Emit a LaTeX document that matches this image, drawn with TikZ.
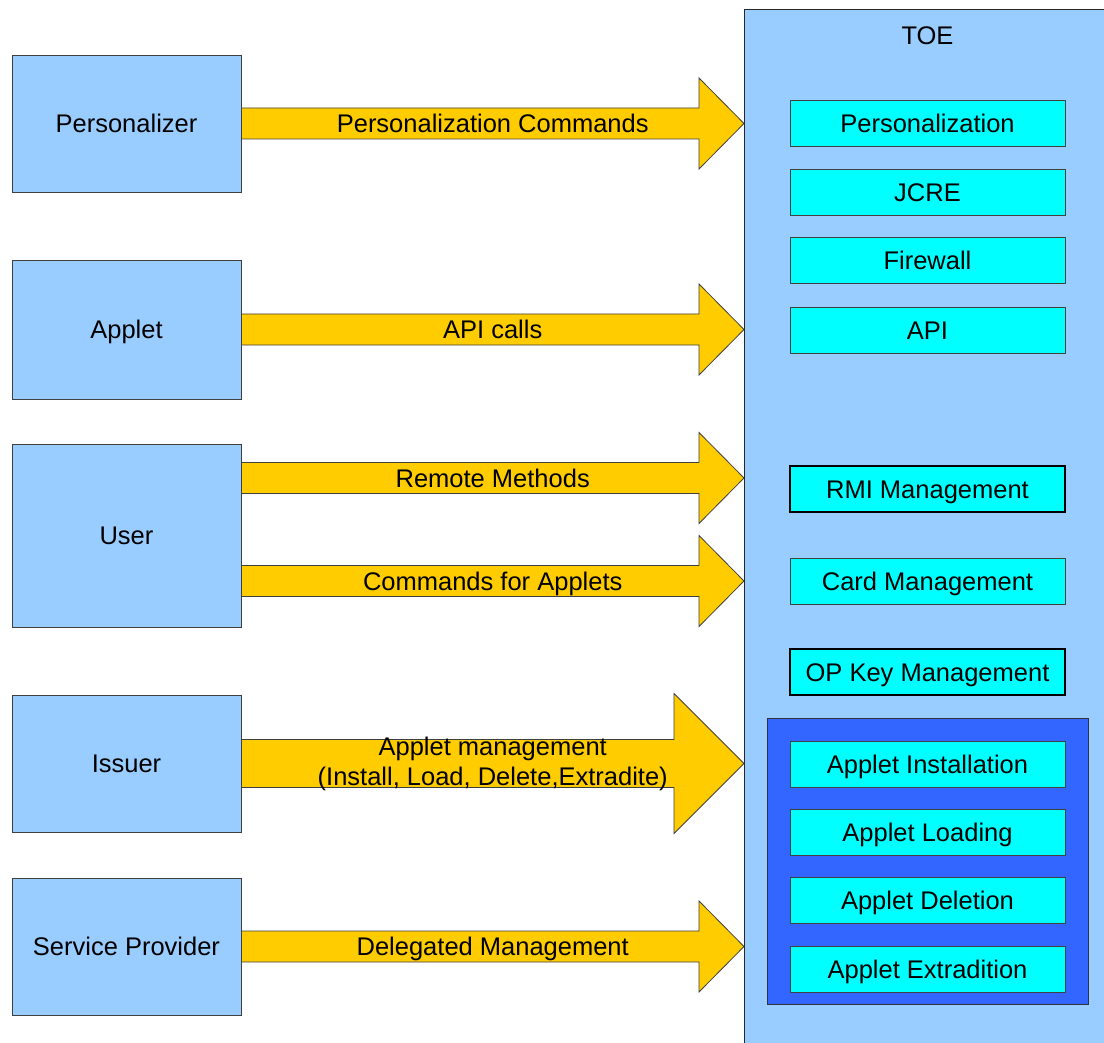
\documentclass[tikz,border=0pt]{standalone}
\usepackage{fontspec}
\setmainfont{Liberation Sans}
\usetikzlibrary{calc}
\definecolor{actorblue}{HTML}{99CCFF}
\definecolor{arrowyellow}{HTML}{FFCC00}
\definecolor{modcyan}{HTML}{00FFFF}
\definecolor{groupblue}{HTML}{3366FF}
\newcommand\fatarrow[7]{%
  \draw[fatarr] let \p1=(#1), \p2=(#2) in
    (\x1,\y1+#4) -- (\x2-#3,\y1+#4) -- (\x2-#3,\y1+#5) -- (\x2,\y1) --
    (\x2-#3,\y1-#5) -- (\x2-#3,\y1-#4) -- (\x1,\y1-#4) -- cycle;
  \node[#6] at ($(#1)!0.5!(#2)$) {#7};}
\begin{document}
\begin{tikzpicture}[x=1pt,y=-1pt,
  bigfont/.style={font=\fontsize{25.5}{30}\selectfont},
  capcenter/.style={text height=18.3pt, text depth=0pt},
  actor/.style={draw=black!75, line width=0.9pt, fill=actorblue,
    minimum width=229pt, inner sep=0pt, bigfont, capcenter},
  toebox/.style={draw=black!85, line width=1pt, fill=actorblue,
    minimum width=380pt, minimum height=1060pt, inner sep=0pt},
  module/.style={draw=black!75, line width=0.9pt, fill=modcyan,
    minimum width=275pt, minimum height=46pt, inner sep=0pt, bigfont, capcenter},
  thickmodule/.style={module, draw=black, line width=2pt},
  group/.style={draw=black!80, line width=0.9pt, fill=groupblue,
    minimum width=321pt, minimum height=285.5pt, inner sep=0pt},
  fatarr/.style={draw=black!75, line width=0.8pt, fill=arrowyellow, line join=miter},
  arrlabel/.style={bigfont, inner sep=0pt, capcenter},
  arrlabeltwo/.style={bigfont, inner sep=0pt, align=center},
  plain/.style={bigfont, inner sep=0pt, capcenter}]
\clip (0,0) rectangle (1104,1043);
\fill[white] (0,0) rectangle (1104,1043);

% actors
\node[actor, minimum height=137pt] (pers) at (126.5,123.5) {Personalizer};
\node[actor, minimum height=139pt] (applet) at (126.5,329.5) {Applet};
\node[actor, minimum height=183pt] (user) at (126.5,535.5) {User};
\node[actor, minimum height=137pt] (issuer) at (126.5,763.5) {Issuer};
\node[actor, minimum height=137pt] (sp) at (126.5,946.5) {Service Provider};

% TOE
\node[toebox, anchor=north west] (toe) at (744,9) {};
\node[plain] (toelabel) at (927.5,35) {TOE};

% group of applet management modules
\node[group] (grp) at (927.5,861.25) {};

% modules
\node[module] (mpers) at (927.5,123.5) {Personalization};
\node[module] (mjcre) at (927.5,192) {JCRE};
\node[module] (mfw) at (927.5,260.5) {Firewall};
\node[module] (mapi) at (927.5,330) {API};
\node[thickmodule] (mrmi) at (927.5,489) {RMI Management};
\node[module] (mcard) at (927.5,581) {Card Management};
\node[thickmodule] (mopk) at (927.5,672) {OP Key Management};
\node[module] (minst) at (927.5,764) {Applet Installation};
\node[module] (mload) at (927.5,832.5) {Applet Loading};
\node[module] (mdel) at (927.5,900.5) {Applet Deletion};
\node[module] (mext) at (927.5,969) {Applet Extradition};

% arrow end points
\coordinate (s1) at (pers.east);
\coordinate (s2) at (applet.east);
\path (user.east) ++(0,-57.5) coordinate (s3);
\path (user.east) ++(0,45.5) coordinate (s4);
\coordinate (s5) at (issuer.east);
\coordinate (s6) at (sp.east);
\coordinate (t1) at (toe.west |- s1);
\coordinate (t2) at (toe.west |- s2);
\coordinate (t3) at (toe.west |- s3);
\coordinate (t4) at (toe.west |- s4);
\coordinate (t5) at (toe.west |- s5);
\coordinate (t6) at (toe.west |- s6);

% arrows
\fatarrow{s1}{t1}{45pt}{15.5pt}{45.5pt}{arrlabel}{Personalization Commands}
\fatarrow{s2}{t2}{45pt}{15.5pt}{45.5pt}{arrlabel}{API calls}
\fatarrow{s3}{t3}{45pt}{15.5pt}{45.5pt}{arrlabel}{Remote Methods}
\fatarrow{s4}{t4}{45pt}{15.5pt}{45.5pt}{arrlabel}{Commands for Applets}
\fatarrow{s5}{t5}{70pt}{24pt}{70pt}{arrlabeltwo}{Applet management\\(Install, Load, Delete,Extradite)}
\fatarrow{s6}{t6}{45pt}{15.5pt}{45.5pt}{arrlabel}{Delegated Management}
\end{tikzpicture}
\end{document}
